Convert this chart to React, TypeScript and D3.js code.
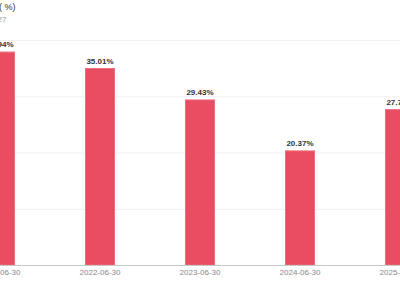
import React from "react";
import * as d3 from "d3";

const categories = ["2021-06-30", "2022-06-30", "2023-06-30", "2024-06-30", "2025-06-30"];
const values = [37.94, 35.01, 29.43, 20.37, 27.71];
const yTicks = [0, 10, 20, 30, 40];
const title = "毛利率( %)";
const subtitle = "2025-08-27";

export default function App() {
  const W = 400;
  const H = 300;
  const x = d3
    .scaleBand<string>()
    .domain(categories)
    .range([-50, 450])
    .paddingInner(0.7)
    .paddingOuter(0.35);
  const y = d3.scaleLinear().domain([0, 40]).range([265, 40]);
  const font = "'Liberation Sans', Arial, Helvetica, sans-serif";

  return (
    <svg
      width={W}
      height={H}
      style={{ position: "fixed", left: 0, top: 0, background: "#fff" }}
      fontFamily={font}
    >
      <rect x={0} y={0} width={W} height={H} fill="#fff" />
      <text x={15.5} y={10} fontSize={9} fill="#333" textAnchor="end">
        {title}
      </text>
      <text x={6.5} y={22} fontSize={8} fill="#999" textAnchor="end">
        {subtitle}
      </text>
      {yTicks
        .filter((t) => t !== 0)
        .map((t) => (
          <line key={t} x1={0} x2={W} y1={y(t) + 0.5} y2={y(t) + 0.5} stroke="#eef0f5" strokeWidth={1} />
        ))}
      {categories.map((c, i) => {
        const bx = x(c)!;
        const by = y(values[i]);
        return (
          <g key={c}>
            <rect
              x={bx + 0.5}
              y={by + 0.5}
              width={x.bandwidth() - 1}
              height={y(0) - by - 0.5}
              fill="#e84d61"
              stroke="#ee6b7c"
              strokeWidth={1}
            />
            <text
              x={bx + x.bandwidth() / 2}
              y={by - 4.5}
              fontSize={8}
              fontWeight="bold"
              fill="#333"
              textAnchor="middle"
            >
              {values[i].toFixed(2)}%
            </text>
            <text x={bx + x.bandwidth() / 2} y={275} fontSize={8} fill="#888" textAnchor="middle">
              {c}
            </text>
          </g>
        );
      })}
      <line x1={0} x2={W} y1={y(0) + 0.5} y2={y(0) + 0.5} stroke="#c8c8c8" strokeWidth={1} />
    </svg>
  );
}
